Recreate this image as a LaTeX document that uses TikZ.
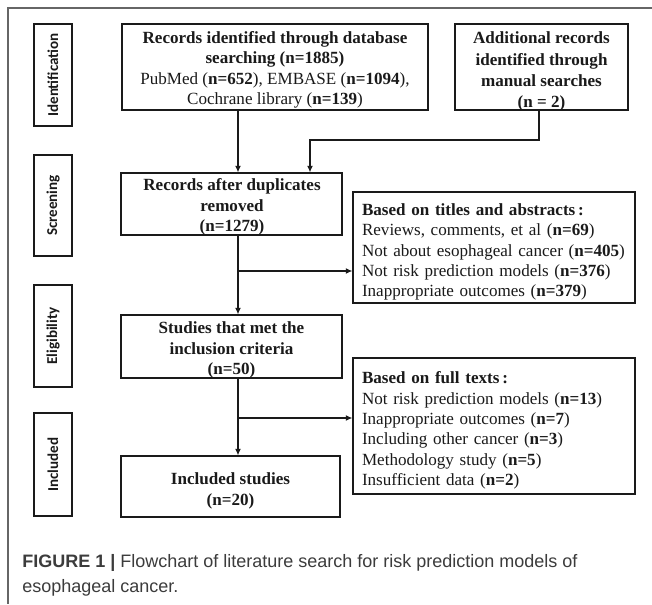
\documentclass[tikz,border=0pt]{standalone}
\usepackage{fontspec}
\setmainfont{Liberation Serif}
\setsansfont{Liberation Sans}
\newfontfamily\calibri{Carlito}
\usetikzlibrary{arrows.meta}
\definecolor{frame}{HTML}{666666}
\definecolor{ink}{HTML}{1A1A1A}
\definecolor{captxt}{HTML}{3C3C3C}
\begin{document}
\begin{tikzpicture}[x=0.75pt,y=-0.75pt,
  box/.style={draw=ink, line width=0.8pt, inner sep=0pt},
  txt/.style={inner sep=0pt, align=center, text=ink,
    font=\fontsize{12.8pt}{15.2pt}\selectfont},
  btxt/.style={txt, font=\bfseries\fontsize{12.8pt}{15.2pt}\selectfont},
  ltxt/.style={inner sep=0pt, align=left, text width=198pt, text=ink,
    font=\fontsize{12.8pt}{15.3pt}\selectfont},
  sidebox/.style={draw=ink, line width=0.8pt, inner sep=0pt, rotate=90,
    minimum height=28.5pt, font=\calibri\bfseries\fontsize{11.3pt}{13pt}\selectfont, text=ink},
  arr/.style={draw=ink, line width=1.1pt, -{Latex[length=5pt,width=4.5pt]}},
  captext/.style={anchor=base west, inner sep=0pt, text=captxt,
    font=\sffamily\fontsize{13.5pt}{18.75pt}\selectfont}
]
\useasboundingbox (0,0) rectangle (652,604);
\fill[white] (0,0) rectangle (652,604);
\draw[frame, line width=0.8pt] (652,8) -- (8,8) -- (8,604);

% side labels
\node[sidebox, minimum width=76.5pt] (sid) at (53,75) {Identification};
\node[sidebox, minimum width=75.75pt] (ssc) at (53,205.5) {Screening};
\node[sidebox, minimum width=76.5pt] (sel) at (53,336) {Eligibility};
\node[sidebox, minimum width=77.25pt] (sin) at (53,464.5) {Included};

% boxes
\node[box, minimum width=229.5pt, minimum height=64.5pt] (b1) at (275,67) {};
\node[box, minimum width=129.75pt, minimum height=64.5pt] (b2) at (541.5,67) {};
\node[box, minimum width=165.75pt, minimum height=46.5pt] (b3) at (231.5,204) {};
\node[box, minimum width=211.5pt, minimum height=83.25pt] (b4) at (494,247.5) {};
\node[box, minimum width=165.75pt, minimum height=47.25pt] (b5) at (231.5,346.5) {};
\node[box, minimum width=211.5pt, minimum height=102pt] (b6) at (494,426) {};
\node[box, minimum width=164.25pt, minimum height=45.75pt] (b7) at (230.5,486.5) {};

% texts
\node[txt] (t1) at (275,69.75)
  {\textbf{Records identified through database}\\
   \textbf{searching (n=1885)}\\
   PubMed (\textbf{n=652}), EMBASE (\textbf{n=1094}),\\
   Cochrane library (\textbf{n=139})};
\node[btxt, font=\bfseries\fontsize{12.8pt}{15.9pt}\selectfont] (t2) at (541.5,71.5)
  {Additional records\\ identified through\\ manual searches\\ (n = 2)};
\node[btxt] (t3) at (232,207)
  {Records after duplicates\\ removed\\ (n=1279)};
\node[ltxt] (t4) at (494,252)
  {\textbf{Based on titles and abstracts\,:}\\
   Reviews, comments, et al (\textbf{n=69})\\
   Not about esophageal cancer (\textbf{n=405})\\
   Not risk prediction models (\textbf{n=376})\\
   Inappropriate outcomes (\textbf{n=379})};
\node[btxt] (t5) at (231.5,350)
  {Studies that met the\\ inclusion criteria\\ (n=50)};
\node[ltxt] (t6) at (494,430.4)
  {\textbf{Based on full texts\,:}\\
   Not risk prediction models (\textbf{n=13})\\
   Inappropriate outcomes (\textbf{n=7})\\
   Including other cancer (\textbf{n=3})\\
   Methodology study (\textbf{n=5})\\
   Insufficient data (\textbf{n=2})};
\node[btxt] (t7) at (230.5,491)
  {Included studies\\ (n=20)};

% connectors
\coordinate (ax) at (238,0);
\coordinate (bx) at (539,0);
\coordinate (k1) at (539,140);
\coordinate (k2) at (310,140);
\coordinate (j1) at (238,271);
\coordinate (j2) at (238,418);
\draw[arr] (b1.south -| ax) -- (b3.north -| ax);
\draw[arr] (b2.south -| bx) -- (k1) -- (k2) -- (b3.north -| k2);
\draw[arr] (b3.south -| ax) -- (b5.north -| ax);
\draw[arr] (j1) -- (j1 -| b4.west);
\draw[arr] (b5.south -| ax) -- (b7.north -| ax);
\draw[arr] (j2) -- (j2 -| b6.west);

% caption
\node[captext] (cap1) at (22,567)
  {{\bfseries\color{ink!85}FIGURE 1 |} Flowchart of literature search for risk prediction models of};
\node[captext] (cap2) at (22,592) {esophageal cancer.};
\end{tikzpicture}
\end{document}
